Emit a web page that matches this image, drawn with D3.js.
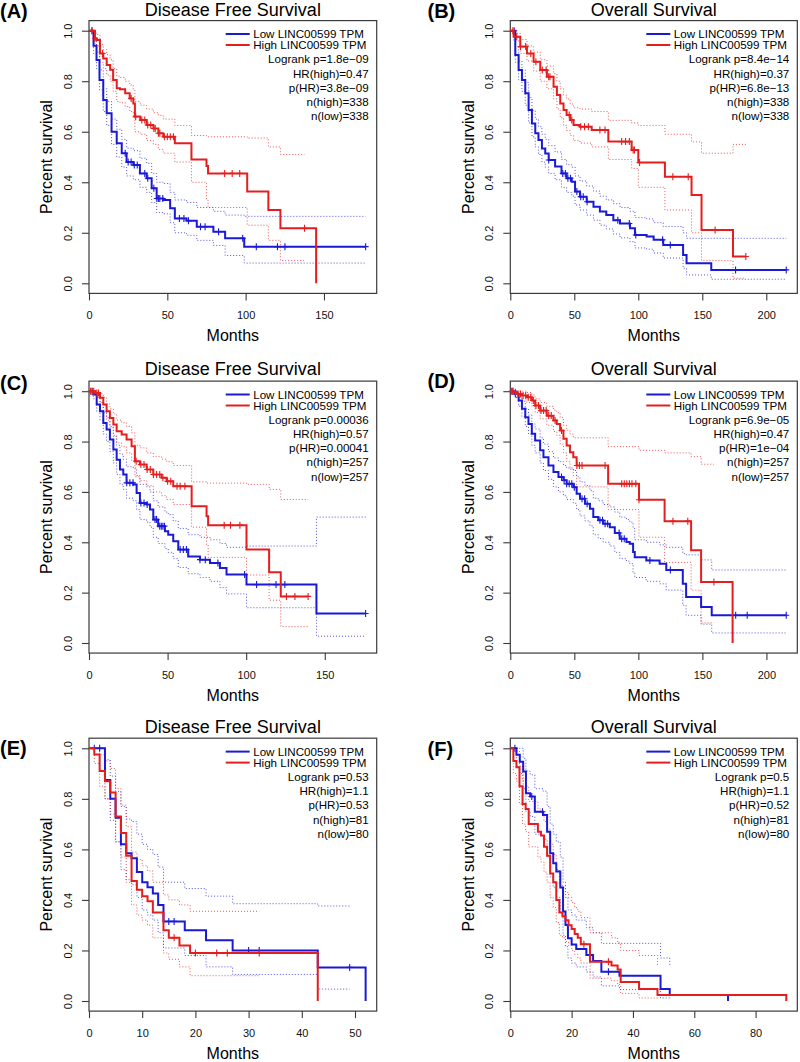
<!DOCTYPE html>
<html><head><meta charset="utf-8">
<script src="https://cdn.jsdelivr.net/npm/d3@7"></script>
<style>
body{margin:0;background:#fff;}
svg{display:block;font-family:"Liberation Sans",Arial,Helvetica,sans-serif;}
</style></head><body>
<svg id="c" width="800" height="1062"></svg>
<script>
// ---------- DATA ----------
// each entry: [time (months), survival, lower CI, upper CI]
const A_low = [[0,1,1,1],[2.9,0.94,0.91,0.965],[4.8,0.884,0.85,0.915],[6.7,0.805,0.765,0.845],[9.1,0.726,0.68,0.77],[11.3,0.673,0.625,0.72],[14.4,0.60,0.55,0.65],[17.7,0.554,0.50,0.61],[20.9,0.515,0.46,0.57],[24,0.48,0.425,0.535],[28.3,0.468,0.41,0.525],[32.5,0.435,0.38,0.495],[36.8,0.416,0.36,0.475],[40,0.376,0.32,0.435],[43.2,0.336,0.28,0.40],[47.4,0.33,0.275,0.395],[51.8,0.297,0.24,0.36],[54.8,0.257,0.20,0.33],[62.3,0.248,0.19,0.32],[68.8,0.224,0.17,0.30],[79.4,0.204,0.15,0.285],[86.9,0.178,0.11,0.27],[99.1,0.145,0.08,0.265],[176.6,0.145,0.08,0.265]];
const A_high = [[0,1,1,1],[3.8,0.97,0.95,0.99],[4.8,0.963,0.94,0.985],[7,0.91,0.875,0.945],[9.1,0.89,0.85,0.925],[11.3,0.864,0.825,0.905],[13.5,0.845,0.80,0.885],[15.4,0.805,0.76,0.85],[17.7,0.772,0.72,0.82],[19.8,0.768,0.715,0.815],[23.1,0.752,0.70,0.80],[26,0.732,0.68,0.785],[28.3,0.712,0.655,0.765],[29.3,0.66,0.60,0.72],[32.7,0.646,0.59,0.705],[36.8,0.627,0.565,0.69],[41.1,0.613,0.55,0.675],[44.3,0.594,0.53,0.665],[47.4,0.58,0.515,0.65],[54.8,0.554,0.48,0.625],[65.4,0.49,0.40,0.585],[75,0.464,0.33,0.58],[76,0.435,0.30,0.58],[101,0.363,0.23,0.575],[114.5,0.29,0.17,0.54],[122.2,0.218,0.09,0.51],[137.6,0.218,0.09,0.51],[145,0,null,null]];
const A_lowCens = [1.9,23.1,25,26.9,28.9,30.8,35.6,37.5,41.4,43.3,44.3,45.2,47.1,57.7,60.6,63.5,71.2,74.1,82.7,98.1,106.8,120.3,125.1,176.6];
const A_highCens = [1.9,3.8,8.7,26.9,29.8,33.7,35.6,37.5,39.4,41.4,42.3,44.3,45.2,48.1,50,51.9,53.9,86.6,91.4,96.2,137.6];

const B_low = [[0,1,1,1],[3.9,0.904,0.875,0.935],[6.5,0.844,0.805,0.88],[9.1,0.805,0.76,0.845],[11.7,0.752,0.705,0.795],[14.3,0.686,0.635,0.735],[16.9,0.633,0.58,0.685],[19.5,0.594,0.54,0.65],[22,0.567,0.51,0.62],[24.7,0.534,0.48,0.59],[27.3,0.514,0.46,0.57],[30,0.488,0.435,0.545],[35,0.462,0.41,0.52],[40,0.435,0.38,0.49],[44,0.416,0.36,0.47],[48,0.402,0.345,0.46],[50.6,0.363,0.31,0.425],[54.5,0.343,0.29,0.405],[59.7,0.323,0.27,0.385],[65,0.303,0.25,0.365],[70,0.284,0.23,0.345],[75,0.27,0.215,0.33],[80.5,0.25,0.195,0.315],[85.7,0.237,0.18,0.30],[93.5,0.218,0.165,0.285],[97.4,0.191,0.14,0.26],[106.5,0.185,0.135,0.255],[112,0.172,0.12,0.24],[119.5,0.152,0.10,0.225],[135,0.112,0.06,0.20],[137.7,0.079,0.033,0.178],[157,0.053,0.016,0.178],[215.6,0.053,0.016,0.178]];
const B_high = [[0,1,1,1],[2.6,0.976,0.96,0.99],[7.8,0.937,0.91,0.965],[13,0.91,0.88,0.94],[18.2,0.877,0.84,0.915],[23.4,0.844,0.80,0.885],[28.6,0.818,0.77,0.86],[33.8,0.778,0.73,0.83],[36.4,0.745,0.69,0.80],[39,0.712,0.655,0.77],[41.6,0.686,0.625,0.745],[44,0.666,0.605,0.73],[46.8,0.646,0.585,0.71],[49.4,0.627,0.565,0.695],[54.5,0.62,0.555,0.69],[63.6,0.607,0.54,0.68],[76.6,0.561,0.49,0.645],[94.8,0.528,0.455,0.635],[100,0.478,0.38,0.625],[120.8,0.422,0.29,0.59],[141.6,0.35,0.20,0.56],[149.4,0.211,0.09,0.515],[174,0.106,0.02,0.55],[184,0.106,0.02,0.55]];
const B_lowCens = [3,30,41,43,45,47,52,55,57,60,84,93,98,119,125,176,215.6];
const B_highCens = [2,5,8,12,16,20,25,28,30,31,46,48,55,58,61,70,74,87,90,93,96,97,101,127,139,160,184];

const C_low = [[0,1,1,1],[2.8,0.987,0.97,1],[4.9,0.947,0.92,0.975],[7,0.92,0.885,0.955],[9.1,0.874,0.83,0.915],[11.2,0.848,0.80,0.895],[13.3,0.808,0.76,0.86],[15.5,0.768,0.715,0.82],[17.6,0.728,0.67,0.785],[19.7,0.689,0.63,0.75],[21.8,0.669,0.61,0.73],[23.9,0.636,0.575,0.70],[28.2,0.629,0.565,0.695],[30.3,0.596,0.53,0.665],[32.4,0.556,0.49,0.63],[36.7,0.55,0.48,0.62],[38.8,0.53,0.46,0.60],[40.9,0.49,0.42,0.565],[44,0.464,0.395,0.54],[48.3,0.444,0.375,0.52],[50.4,0.43,0.36,0.51],[53.6,0.404,0.335,0.485],[56.8,0.371,0.30,0.455],[63.1,0.344,0.275,0.43],[70.6,0.331,0.26,0.42],[77,0.318,0.245,0.41],[83.3,0.298,0.22,0.395],[87.5,0.272,0.195,0.38],[100.2,0.232,0.14,0.385],[144.7,0.117,0.027,0.50],[176,0.117,0.027,0.50]];
const C_high = [[0,1,1,1],[3.8,0.993,0.98,1],[7,0.974,0.955,0.99],[9.1,0.947,0.92,0.975],[11.2,0.92,0.885,0.95],[13.3,0.894,0.855,0.93],[15.5,0.868,0.825,0.91],[17.6,0.841,0.795,0.885],[20.8,0.828,0.78,0.875],[23.9,0.808,0.755,0.86],[27.1,0.781,0.725,0.835],[29.2,0.722,0.66,0.785],[32.4,0.709,0.645,0.775],[36.7,0.689,0.625,0.755],[40.9,0.669,0.60,0.74],[46.2,0.656,0.585,0.73],[49.4,0.642,0.57,0.72],[53.6,0.623,0.55,0.705],[65.3,0.543,0.46,0.64],[74.8,0.503,0.39,0.635],[75.8,0.468,0.34,0.635],[100.2,0.371,0.27,0.63],[114.6,0.281,0.17,0.61],[122,0.185,0.065,0.57],[139.4,0.185,0.065,0.57]];
const C_lowCens = [2,24,26,28,33,35,37,42,43,45,46,47,48,58,60,62,70.6,74,82,99,106.6,119,124.6,176];
const C_highCens = [1,2,3,5,6,30,33,35,37,39,41,43,45,47,50,52,56,58,61,86,90,96,125.6,131,139.4];

const D_low = [[0,1,1,1],[3.9,0.989,0.975,1],[6.5,0.963,0.94,0.985],[9.1,0.93,0.90,0.96],[11.7,0.897,0.86,0.93],[14.2,0.87,0.83,0.905],[16.8,0.831,0.785,0.87],[19.4,0.804,0.755,0.85],[23.3,0.765,0.715,0.815],[25.9,0.738,0.685,0.79],[29.8,0.705,0.65,0.76],[33.7,0.679,0.62,0.735],[37.6,0.659,0.60,0.72],[41.5,0.646,0.585,0.705],[44,0.632,0.57,0.695],[49.2,0.619,0.555,0.685],[51.8,0.593,0.53,0.66],[54.4,0.573,0.505,0.64],[58.3,0.553,0.485,0.625],[62.2,0.533,0.465,0.605],[64.8,0.5,0.43,0.575],[68.7,0.487,0.415,0.565],[72.5,0.474,0.40,0.55],[77.7,0.46,0.385,0.54],[81.6,0.437,0.36,0.52],[85.5,0.414,0.335,0.50],[90.7,0.401,0.325,0.49],[93.3,0.394,0.315,0.48],[95.9,0.361,0.28,0.455],[97.2,0.341,0.26,0.41],[106.2,0.328,0.245,0.40],[116.6,0.315,0.235,0.39],[121.8,0.29,0.21,0.38],[134.7,0.235,0.15,0.355],[137.3,0.183,0.11,0.35],[149,0.143,0.075,0.33],[157.3,0.11,0.04,0.29],[215.5,0.11,0.04,0.29]];
const D_high = [[0,1,1,1],[2.6,0.996,0.99,1],[5.2,0.989,0.975,1],[9,0.983,0.965,1],[13,0.976,0.955,0.995],[16.8,0.963,0.94,0.985],[19.4,0.943,0.915,0.97],[23.3,0.923,0.89,0.955],[28.5,0.903,0.865,0.94],[33.7,0.884,0.84,0.925],[36.3,0.87,0.825,0.915],[38.9,0.844,0.79,0.895],[41.5,0.811,0.755,0.865],[44,0.784,0.72,0.845],[46.6,0.758,0.69,0.83],[49.2,0.738,0.665,0.815],[51.8,0.705,0.62,0.815],[76.4,0.632,0.53,0.78],[100.5,0.569,0.42,0.765],[120.5,0.484,0.32,0.755],[141.2,0.368,0.21,0.74],[149,0.242,0.08,0.71],[159,0.242,0.08,0.71],[173.6,0,null,null]];
const D_lowCens = [2,4,40,42,44,46,48,50,56,58,60,70,72,74,76,85,87,89,109,125,176,185,215.5];
const D_highCens = [1,2,4,6,8,10,12,14,16,18,20,22,24,26,28,30,32,35,40,52,54,56,74,87,89,91,93,95,98,100.5,127,138.6,159];

const E_low = [[0,1,1,1],[3,0.875,0.80,0.955],[4,0.80,0.715,0.89],[5,0.725,0.63,0.83],[6,0.62,0.52,0.77],[7,0.585,0.48,0.72],[8,0.565,0.46,0.71],[9,0.51,0.41,0.66],[10,0.47,0.36,0.62],[11,0.45,0.34,0.60],[12,0.425,0.32,0.58],[13,0.38,0.27,0.53],[14,0.315,0.21,0.47],[18,0.28,0.18,0.445],[22,0.24,0.135,0.415],[27,0.20,0.105,0.385],[43,0.133,0.047,0.376],[49,0.133,0.047,0.376],[52,0,null,null]];
const E_high = [[0,1,1,1],[1,0.975,0.94,1],[2,0.91,0.85,0.975],[3,0.87,0.80,0.95],[4,0.825,0.74,0.92],[5,0.73,0.63,0.84],[6,0.665,0.57,0.775],[7,0.575,0.47,0.69],[8,0.475,0.38,0.59],[9,0.44,0.34,0.56],[10,0.415,0.32,0.535],[11,0.395,0.30,0.515],[12,0.35,0.25,0.47],[14,0.28,0.19,0.42],[15,0.25,0.165,0.40],[17,0.22,0.135,0.38],[19,0.19,0.10,0.355],[32,0.19,0.10,0.355],[43,0,null,null]];
const E_lowCens = [1,2,15,16,30,32,49];
const E_highCens = [16,20,24,26,32];

const F_low = [[0,1,1,1],[2,0.974,0.93,1],[3.1,0.947,0.90,1],[4.2,0.908,0.84,0.96],[5.1,0.822,0.75,0.91],[6.5,0.809,0.73,0.895],[8,0.749,0.66,0.84],[10.7,0.736,0.64,0.83],[12,0.67,0.57,0.77],[13,0.585,0.49,0.70],[14,0.545,0.45,0.66],[15,0.512,0.41,0.63],[16.3,0.449,0.35,0.57],[17.2,0.354,0.26,0.47],[18,0.301,0.215,0.41],[18.8,0.248,0.17,0.36],[20,0.224,0.15,0.34],[21.5,0.206,0.135,0.32],[24.8,0.182,0.115,0.29],[27,0.158,0.095,0.27],[29.7,0.116,0.06,0.228],[35.6,0.10,0.045,0.228],[49,0.047,0.012,0.17],[52,0.024,0.004,0.14],[71,0,null,null]];
const F_high = [[0,1,1,1],[1,0.95,0.90,1],[2,0.925,0.87,0.99],[3,0.85,0.78,0.93],[4,0.78,0.70,0.87],[5,0.76,0.67,0.85],[6,0.70,0.61,0.79],[9,0.67,0.57,0.76],[10,0.655,0.55,0.75],[11,0.61,0.51,0.71],[12,0.575,0.47,0.68],[13,0.505,0.41,0.62],[14,0.47,0.37,0.58],[15,0.40,0.31,0.52],[16,0.35,0.26,0.46],[17,0.335,0.25,0.45],[18,0.32,0.235,0.43],[19,0.30,0.22,0.41],[20,0.285,0.20,0.39],[21,0.265,0.185,0.37],[22,0.25,0.17,0.355],[23,0.225,0.15,0.33],[26,0.155,0.09,0.27],[33,0.14,0.08,0.25],[35,0.125,0.065,0.23],[36,0.075,0.03,0.20],[42,0.047,0.012,0.18],[48,0.024,0.004,0.14],[90,0,null,null]];
const F_lowCens = [1.5,7,10.5,32];
const F_highCens = [24,32];

const panelIds = ["A","B","C","D","E","F"];
const titles = ["Disease Free Survival","Overall Survival","Disease Free Survival","Overall Survival","Disease Free Survival","Overall Survival"];
const xMax = [176.6,215.6,176,215.5,52,90];
const xTicks = [[0,50,100,150],[0,50,100,150,200],[0,50,100,150],[0,50,100,150,200],[0,10,20,30,40,50],[0,20,40,60,80]];
const yTicks = [0,0.2,0.4,0.6,0.8,1.0];
const legendLabels = ["Low LINC00599 TPM","High LINC00599 TPM"];
const logrankP = ["1.8e\u221209","8.4e\u221214","0.00036","6.9e\u221205","0.53","0.5"];
const hrHigh = ["0.47","0.37","0.57","0.47","1.1","1.1"];
const pHR = ["3.8e\u221209","6.8e\u221213","0.00041","1e\u221204","0.53","0.52"];
const nHigh = [338,338,257,257,81,81];
const nLow = [338,338,257,257,80,80];

const lowSeries = [A_low,B_low,C_low,D_low,E_low,F_low];
const highSeries = [A_high,B_high,C_high,D_high,E_high,F_high];
const lowCens = [A_lowCens,B_lowCens,C_lowCens,D_lowCens,E_lowCens,F_lowCens];
const highCens = [A_highCens,B_highCens,C_highCens,D_highCens,E_highCens,F_highCens];

// ---------- LAYOUT ----------
const colX = [[89,376.7],[510.3,797.3]];
const rowY = [[283.3,30.7],[643,391.2],[1001,748.3]];   // y of 0 and y of 1
const titleBase = [16.4,375,732.5];
const labelBase = [[18.2,18.2],[389.5,388],[754.5,755.5]];
const BLUE = "#1a1ad6", RED = "#e41e1e";
const AXC = "#3a3a3a";

const svg = d3.select("#c");

function survAt(arr, t){
  let s = 1;
  for (const d of arr){ if (d[0] <= t) s = d[1]; else break; }
  return s;
}

panelIds.forEach((id, i) => {
  const col = i % 2, row = Math.floor(i / 2);
  const [x0, x1] = colX[col];
  const [yb, yt] = rowY[row];
  const x = d3.scaleLinear().domain([0, xMax[i] * 1.04]).range([x0, x1]);
  const y = d3.scaleLinear().domain([0, 1]).range([yb, yt]);
  const g = svg.append("g");

  // panel label
  g.append("text").attr("x", col === 0 ? 0 : 427.5).attr("y", labelBase[row][col])
    .attr("font-size", 20).attr("font-weight", "bold").text("(" + id + ")");
  // title
  g.append("text").attr("x", (x0 + x1) / 2).attr("y", titleBase[row])
    .attr("text-anchor", "middle").attr("font-size", 18).text(titles[i]);

  const boxTop = y(1.04), boxBot = y(-0.04);

  // axes
  const xa = g.append("g").attr("transform", `translate(0,${boxBot})`)
    .call(d3.axisBottom(x).tickValues(xTicks[i]).tickSize(7).tickFormat(d3.format("d")));
  xa.select(".domain").remove();
  xa.selectAll("line").attr("stroke", AXC).attr("stroke-width", 1.1);
  xa.selectAll("text").attr("y", 25.6).attr("dy", 0).attr("font-size", 11)
    .attr("fill", "#111").attr("font-family", "Liberation Sans, Arial, sans-serif");

  const ya = g.append("g").attr("transform", `translate(${x0},0)`)
    .call(d3.axisLeft(y).tickValues(yTicks).tickSize(7).tickFormat(d3.format(".1f")));
  ya.select(".domain").remove();
  ya.selectAll("line").attr("stroke", AXC).attr("stroke-width", 1.1);
  ya.selectAll("text").attr("x", 0).attr("dy", 0).attr("text-anchor", "middle")
    .attr("transform", "translate(-17.3,0) rotate(-90)").attr("font-size", 11)
    .attr("fill", "#111").attr("font-family", "Liberation Sans, Arial, sans-serif");

  // box
  g.append("rect").attr("x", x0).attr("y", boxTop).attr("width", x1 - x0).attr("height", boxBot - boxTop)
    .attr("fill", "none").attr("stroke", AXC).attr("stroke-width", 1.2);

  // axis titles
  g.append("text").attr("text-anchor", "middle").attr("font-size", 16)
    .attr("transform", `translate(${x0 - 36.8},${(boxTop + boxBot) / 2}) rotate(-90)`).text("Percent survival");
  g.append("text").attr("text-anchor", "middle").attr("font-size", 16)
    .attr("x", (x0 + x1) / 2).attr("y", y(0) + 58).text("Months");

  const plot = g.append("g");
  const step = idx => d3.line().x(d => x(d[0])).y(d => y(d[idx])).curve(d3.curveStepAfter);

  const groups = [[lowSeries[i], lowCens[i], BLUE], [highSeries[i], highCens[i], RED]];
  // confidence intervals (dotted)
  groups.forEach(([ser, , c]) => {
    const ci = ser.filter(d => d[2] !== null);
    [2, 3].forEach(k => {
      plot.append("path").attr("d", step(k)(ci)).attr("fill", "none")
        .attr("stroke", c).attr("stroke-opacity", 0.75).attr("stroke-width", 1)
        .attr("stroke-dasharray", "1,2");
    });
  });
  // survival curves + censor marks
  groups.forEach(([ser, cens, c]) => {
    plot.append("path").attr("d", step(1)(ser)).attr("fill", "none")
      .attr("stroke", c).attr("stroke-width", 2);
    plot.append("g").selectAll("path").data(cens).join("path")
      .attr("d", t => {
        const px = x(t), py = y(survAt(ser, t));
        return `M${px - 3},${py}h6M${px},${py - 3.5}v7`;
      })
      .attr("stroke", c).attr("stroke-width", 1.1).attr("fill", "none");
  });

  // legend
  const ly = y(1);
  [[legendLabels[0], BLUE, 3.3], [legendLabels[1], RED, 14.3]].forEach(([lab, c, off]) => {
    g.append("line").attr("x1", x1 - 151).attr("x2", x1 - 127).attr("y1", ly + off).attr("y2", ly + off)
      .attr("stroke", c).attr("stroke-width", 2);
    g.append("text").attr("x", x1 - 123.5).attr("y", ly + off).attr("dy", "0.35em")
      .attr("font-size", 11.6).text(lab);
  });
  const stats = ["Logrank p=" + logrankP[i], "HR(high)=" + hrHigh[i], "p(HR)=" + pHR[i],
                 "n(high)=" + nHigh[i], "n(low)=" + nLow[i]];
  stats.forEach((s, k) => {
    g.append("text").attr("x", x1 - 8).attr("y", ly + 28.6 + k * 14.2).attr("dy", "0.35em")
      .attr("text-anchor", "end").attr("font-size", 11.6).text(s);
  });
});
</script>
</body></html>
